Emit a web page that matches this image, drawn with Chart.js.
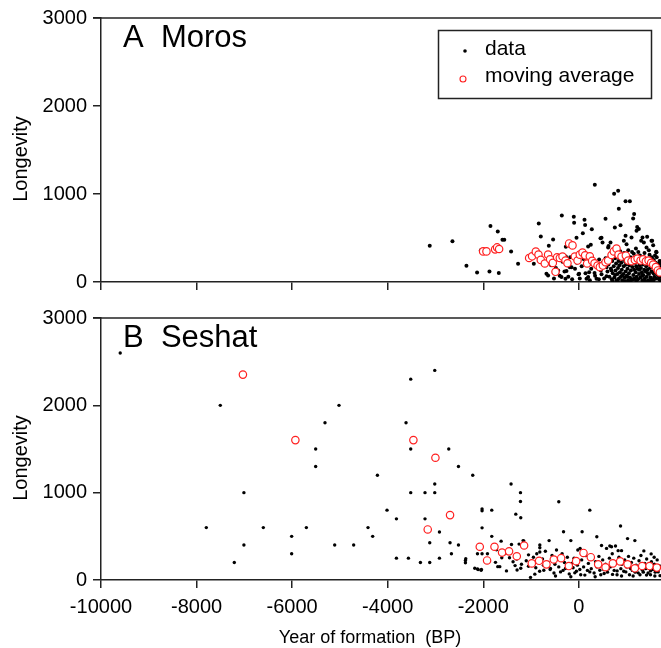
<!DOCTYPE html>
<html>
<head>
<meta charset="utf-8">
<script src="https://cdn.jsdelivr.net/npm/chart.js@4.4.1/dist/chart.umd.min.js"></script>
<style>
  html, body { margin: 0; padding: 0; background: #fff; overflow: hidden; }
  #wrap { position: relative; width: 661px; height: 648px; }
  .panel { position: absolute; left: 0; width: 661px; }
  #pA { top: 0; height: 300px; }
  #pB { top: 300px; height: 348px; }
</style>
</head>
<body>
<div id="wrap">
  <div class="panel" id="pA"><canvas id="chartA"></canvas></div>
  <div class="panel" id="pB"><canvas id="chartB"></canvas></div>
</div>
<script>
// axes
const xMin = -10000, xMax = 1720;
const xTicks = [-10000, -8000, -6000, -4000, -2000, 0];
const yMin = 0, yMax = 3000;
const yTicks = [0, 1000, 2000, 3000];

// panel A : Moros  [year, longevity]
const morosData = [
  [-3120,412],[-2645,464],[-2352,185],[-2129,107],[-2050,360],[-1849,635],[-1696,573],[-1598,480],
  [-1560,480],[-1870,120],[-1675,101],[-1417,348],[-1271,206],[-942,206],[-838,666],[-796,517],
  [-643,75],[-628,412],[-538,483],[-433,131],[-362,56],[-356,756],[-272,401],[-272,289],[-153,169],
  [-105,742],[-98,674],[-48,502],[-6,87],[84,554],[119,708],[132,648],[195,404],[195,56],[251,424],
  [272,599],[335,1104],[425,255],[454,498],[475,502],[496,449],[559,719],[580,169],[614,393],[622,408],
  [663,449],[664,244],[739,1004],[754,618],[823,1037],[837,831],[873,644],[942,468],[978,918],[978,525],
  [999,430],[1068,918],[1103,506],[1137,722],[1158,772],[1208,581],[1221,626],[1256,603],[1305,468],
  [1333,506],[1361,449],[1417,393],[1430,513],[1521,468],[1535,468],[1556,419],[1619,345],[1626,337],
  [1682,206],[-677,93],[-454,112],[-258,124],[-188,169],[-279,37],[6,93],[216,112],[161,37],[329,101],
  [370,37],[475,87],[580,64],[685,131],
  [-580,190],[-520,40],[-480,160],[-400,70],[-340,230],[-300,120],[-220,60],[-180,280],[-140,30],
  [-80,150],[-40,220],[20,40],[60,180],[100,260],[140,100],[180,200],[230,20],[260,150],[300,240],
  [340,70],[380,180],[420,30],[460,130],[500,220],[530,40],[560,270],
  [600,120],[620,200],[640,60],[650,290],[670,150],[690,30],[700,240],[710,100],[720,320],[730,180],
  [745,50],[760,270],[770,130],[780,210],[790,20],[800,300],[810,90],[820,160],[830,240],[840,40],
  [850,190],[860,110],[870,280],[880,60],[890,220],[900,140],[910,20],[920,260],[930,90],[940,180],
  [950,330],[960,50],[970,230],[980,120],[990,200],[1000,70],
  [1010,300],[1020,150],[1030,20],[1040,240],[1050,100],[1060,190],[1070,50],[1080,280],[1090,130],
  [1100,210],[1110,30],[1120,170],[1130,260],[1140,80],[1150,320],[1160,140],[1170,40],[1180,220],
  [1190,110],[1200,180],[1210,60],[1220,270],[1230,150],[1240,30],[1250,230],[1260,90],[1270,190],
  [1280,300],[1290,50],[1300,160],[1310,240],[1320,110],[1330,20],[1340,200],[1350,80],[1360,280],
  [1370,140],[1380,40],[1390,220],[1400,120],
  [1410,180],[1420,60],[1430,260],[1440,140],[1450,20],[1460,210],[1470,90],[1480,310],[1490,160],
  [1500,50],[1510,230],[1520,120],[1530,280],[1540,30],[1550,190],[1560,100],[1570,250],[1580,60],
  [1590,170],[1600,130],[1610,220],[1620,40],[1630,280],[1640,150],[1650,80],[1660,200],[1670,120],
  [1680,30],[1690,240],[1700,170],[1710,90],[1718,210],
  [705,10],[760,80],[815,15],[905,75],[965,10],[1015,60],[1085,10],[1145,30],[1205,15],[1265,140],
  [1325,70],[1385,10],[1445,100],[1505,15],[1565,20],[1625,100],[1685,60],[1712,10],
  [735,350],[795,370],[865,350],[1035,360],[1115,340],[1195,380],[1245,340],[1375,330],[1465,360],[1595,300]
];
const morosAvg = [
  [-2003,348],[-1933,348],[-1752,371],[-1710,393],[-1668,375],[-1040,273],[-978,292],[-900,345],
  [-844,311],[-796,251],[-712,210],[-643,311],[-601,258],[-544,217],[-488,116],[-454,281],[-398,273],
  [-341,289],[-279,244],[-237,213],[-203,438],[-132,416],[-84,289],[-27,244],[21,311],[77,334],
  [132,303],[174,210],[230,292],[279,240],[329,213],[392,187],[440,169],[503,187],[559,225],[614,244],
  [685,307],[733,348],[789,379],[831,311],[894,289],[984,300],[1032,244],[1103,236],[1173,251],
  [1229,266],[1292,244],[1347,258],[1403,236],[1460,244],[1514,217],[1556,199],[1612,169],[1654,131],
  [1696,109]
];

// panel B : Seshat  [year, longevity]
const seshatData = [
  [-9598,2600],[-7503,2000],[-7796,600],[-7009,1000],[-7009,400],[-7210,200],[-6603,600],[-6010,500],
  [-6010,300],[-5702,600],[-5507,1500],[-5507,1300],[-5312,1800],[-5109,400],[-5019,2000],[-4712,400],
  [-4412,600],[-4314,500],[-4215,1200],[-4014,800],[-3817,700],[-3817,250],[-3616,1800],[-3566,250],
  [-3518,2300],[-3518,1500],[-3518,1000],[-3315,200],[-3219,1000],[-3219,700],[-3120,200],[-3120,426],
  [-3015,2400],[-3015,1100],[-3015,1000],[-2917,550],[-2917,250],[-2722,1500],[-2695,426],[-2666,300],
  [-2519,1300],[-2519,400],[-2373,224],[-2373,198],[-2220,1200],[-2178,134],[-2121,300],[-2121,127],
  [-2038,120],[-2025,814],[-2025,792],[-2025,597],[-2025,300],[-1912,300],[-1822,800],[-1822,500],
  [-2366,243],[-2108,120],[-2045,112],
  [-1723,347],[-1626,445],[-1543,302],[-1612,254],[-1744,202],[-1696,153],[-1654,153],[-1418,1100],
  [-1409,407],[-1451,254],[-1376,209],[-1514,104],[-1334,165],[-1292,115],[-1221,1000],[-1221,899],
  [-1319,754],[-1215,713],[-1215,134],[-1250,411],[-1166,451],[-1053,288],
  [230,800],[-419,896],[-320,552],[69,552],[-167,451],[-622,451],[475,395],[377,496],[873,619],
  [1020,474],[1173,451],[649,389],[768,389],[823,336],[894,336],[-467,344],[-816,400],[-816,370],
  [-816,321],[-21,344],[27,362],[580,362],[685,381],[1361,333],[1514,299],[1577,261],
  [-1152,448],[-831,243],[-1053,157],[-921,67],[-1011,30],[-733,112],[-593,131],[-488,45],[-383,93],
  [-279,131],[-167,37],[-84,82],[21,120],[126,56],[230,93],[342,37],[440,112],[530,75],[614,127],
  [706,64],[802,104],[894,45],[984,93],[1082,131],[1137,45],[1242,82],[1333,112],[1417,56],[1500,104],
  [1591,45],[1661,93],
  [-950,260],[-880,300],[-760,240],[-700,330],[-640,200],[-560,280],[-500,180],[-430,240],[-350,300],
  [-300,200],[-240,260],[-150,190],[-100,250],[-30,170],[60,230],[140,280],[200,190],[280,240],
  [350,210],[420,270],[500,230],[560,180],[640,250],[700,300],[760,200],[840,260],[900,180],[960,230],
  [1040,270],[1100,200],[1150,250],[1200,170],[1260,220],[1300,280],[1380,190],[1420,240],[1470,150],
  [1520,210],[1580,180],[1640,230],[1690,160],[-1100,220],[-1200,180],[-1300,240],
  [-900,140],[-820,100],[-740,170],[-600,120],[-520,80],[-420,150],[-330,110],[-200,70],[-120,140],
  [-50,100],[40,60],[100,150],[180,110],[260,130],[320,80],[380,150],[460,60],[520,120],[600,90],
  [660,150],[740,110],[800,60],[880,130],[940,100],[1000,150],[1060,60],[1120,110],[1180,90],
  [1230,140],[1280,60],[1350,90],[1400,130],[1450,80],[1500,60],[1550,120],[1600,90],[1660,120],[1700,50]
];
const seshatAvg = [
  [-7030,2352],[-5932,1602],[-3462,1602],[-3001,1400],[-3162,579],[-2695,743],[-2073,381],[-1920,224],
  [-1765,381],[-1606,314],[-1460,328],[-1298,272],[-1145,395],[-984,190],[-831,220],[-677,179],
  [-524,235],[-370,250],[-209,160],[-56,216],[98,310],[251,261],[405,179],[559,146],[712,190],
  [865,213],[1020,179],[1173,134],[1326,160],[1480,160],[1633,142]
];

const FONT = '"Liberation Sans", Arial, Helvetica, sans-serif';
const AXIS = '#222';
const RED = '#ff2020';
Chart.defaults.font.family = FONT;
Chart.defaults.color = '#000';

const toPts = arr => arr.map(p => ({ x: p[0], y: p[1] }));

// frame line on top, panel letter, axis titles, legend
const decor = {
  id: 'decor',
  afterDraw(chart, args, opts) {
    const ctx = chart.ctx, a = chart.chartArea;
    ctx.save();
    ctx.strokeStyle = AXIS;
    ctx.lineWidth = 1.5;
    ctx.beginPath();
    ctx.moveTo(a.left - 8, a.top);
    ctx.lineTo(a.right, a.top);
    ctx.stroke();

    ctx.fillStyle = '#000';
    ctx.font = '31px ' + FONT;
    ctx.textAlign = 'left';
    ctx.textBaseline = 'alphabetic';
    ctx.fillText(opts.label, 123, a.top + 29);

    ctx.save();
    ctx.translate(21, (a.top + a.bottom) / 2 + 9);
    ctx.rotate(-Math.PI / 2);
    ctx.font = '20px ' + FONT;
    ctx.textAlign = 'center';
    ctx.textBaseline = 'middle';
    ctx.fillText('Longevity', 0, 0);
    ctx.restore();

    if (opts.xTitle) {
      ctx.font = '18px ' + FONT;
      ctx.textAlign = 'center';
      ctx.textBaseline = 'middle';
      ctx.fillText(opts.xTitle, 370, a.bottom + 58);
    }

    if (opts.legend) {
      ctx.lineWidth = 1.5;
      ctx.strokeStyle = AXIS;
      ctx.strokeRect(438.5, 30.5, 213, 68);
      ctx.fillStyle = '#000';
      ctx.beginPath();
      ctx.arc(465, 51, 1.8, 0, Math.PI * 2);
      ctx.fill();
      ctx.strokeStyle = RED;
      ctx.lineWidth = 1.1;
      ctx.beginPath();
      ctx.arc(463, 79, 3, 0, Math.PI * 2);
      ctx.stroke();
      ctx.fillStyle = '#000';
      ctx.font = '21px ' + FONT;
      ctx.textAlign = 'left';
      ctx.textBaseline = 'alphabetic';
      ctx.fillText('data', 485, 55);
      ctx.fillText('moving average', 485, 82);
    }
    ctx.restore();
  }
};

function makeChart(id, data, avg, bottom, label, legend) {
  return new Chart(document.getElementById(id), {
    type: 'scatter',
    data: {
      datasets: [
        { label: 'moving average', data: toPts(avg), pointRadius: 3.7, borderWidth: 1.2,
          borderColor: RED, backgroundColor: '#fff' },
        { label: 'data', data: toPts(data), pointRadius: bottom ? 1.7 : 2, borderWidth: 0,
          borderColor: '#000', backgroundColor: '#000' }
      ]
    },
    options: {
      responsive: true,
      maintainAspectRatio: false,
      animation: false,
      layout: { autoPadding: false, padding: { top: bottom ? 12 : 18, right: 0, left: 0, bottom: 0 } },
      plugins: { legend: { display: false }, tooltip: { enabled: false },
                 decor: { label: label, legend: legend, xTitle: bottom ? 'Year of formation  (BP)' : '' } },
      scales: {
        x: {
          type: 'linear', min: xMin, max: xMax,
          afterBuildTicks: s => { s.ticks = xTicks.map(v => ({ value: v })); },
          afterFit: s => { s.height = bottom ? 68 : 15; },
          ticks: { display: bottom, autoSkip: false, maxRotation: 0, padding: 7,
                   font: { size: 20 }, callback: v => String(v) },
          grid: { drawOnChartArea: false, drawTicks: true, tickLength: 8, color: AXIS, lineWidth: 1.5 },
          border: { display: true, color: AXIS, width: 1.5 }
        },
        y: {
          min: yMin, max: yMax,
          afterBuildTicks: s => { s.ticks = yTicks.map(v => ({ value: v })); },
          afterFit: s => { s.width = 101; },
          ticks: { padding: 6, font: { size: 20 }, callback: v => String(v) },
          grid: { drawOnChartArea: false, drawTicks: true, tickLength: 8, color: AXIS, lineWidth: 1.5 },
          border: { display: true, color: AXIS, width: 1.5 }
        }
      }
    },
    plugins: [decor]
  });
}

makeChart('chartA', morosData, morosAvg, false, 'A  Moros', true);
makeChart('chartB', seshatData, seshatAvg, true, 'B  Seshat', false);
</script>
</body>
</html>
